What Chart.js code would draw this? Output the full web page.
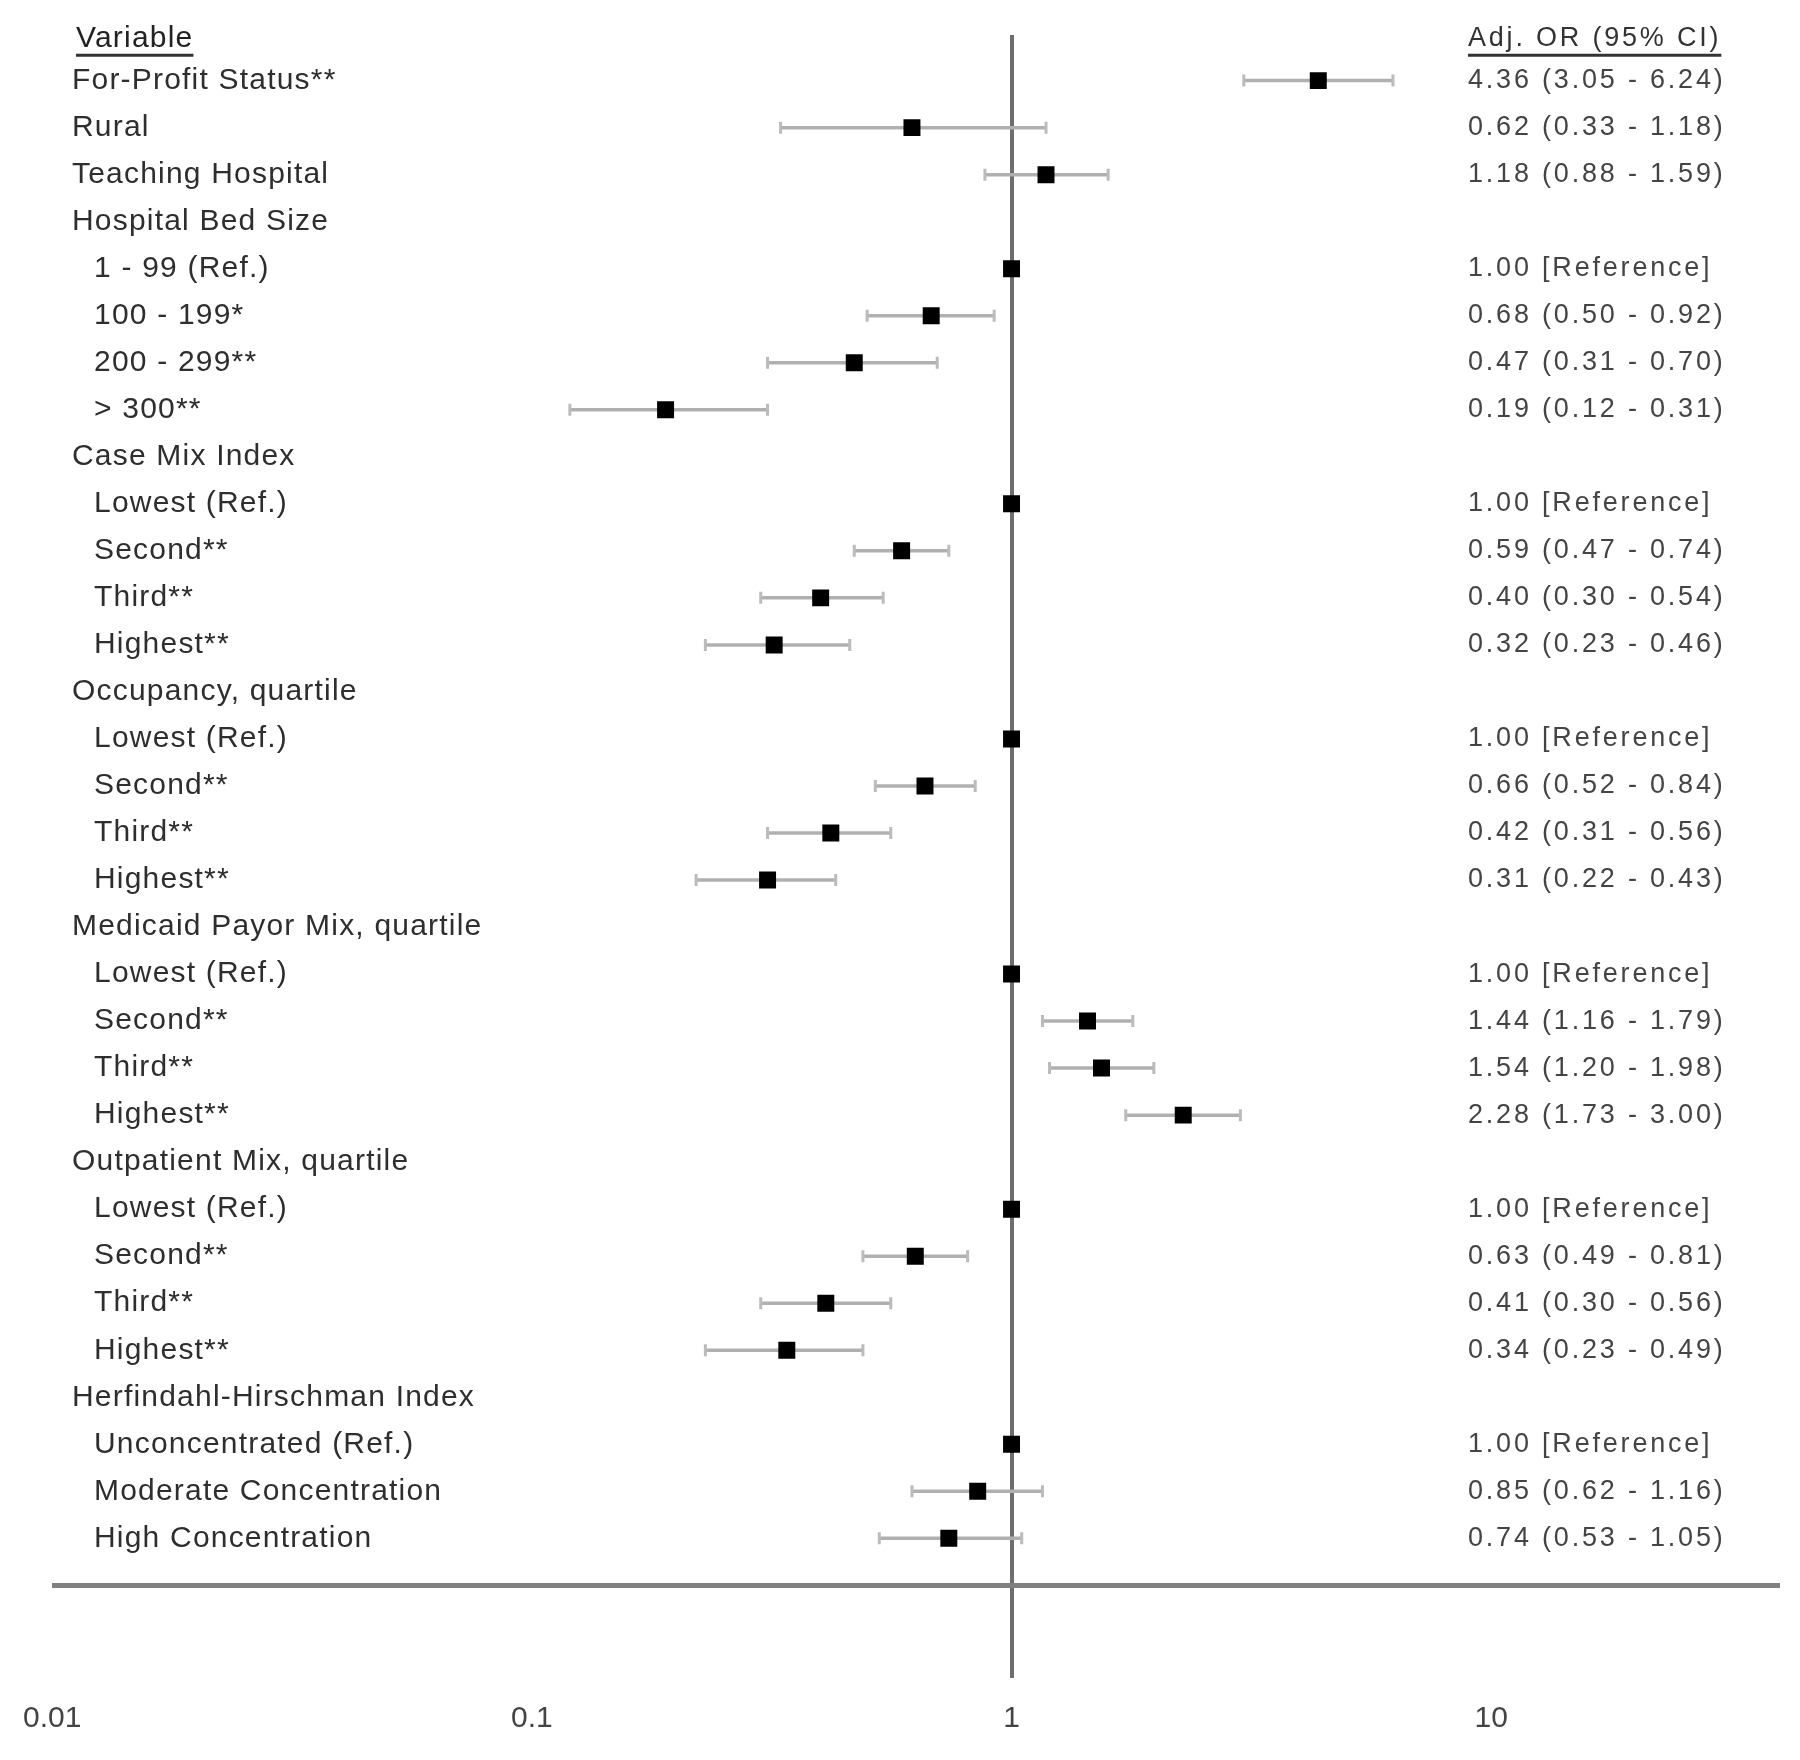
<!DOCTYPE html>
<html>
<head>
<meta charset="utf-8">
<title>Adjusted odds ratios</title>
<script src="https://cdn.jsdelivr.net/npm/chart.js@4.4.1/dist/chart.umd.min.js"></script>
<style>
    html, body { margin: 0; padding: 0; background: #fff; }
    canvas { display: block; filter: blur(0.6px); }
</style>
</head>
<body>
<canvas id="chartForest" width="1800" height="1760"></canvas>
<script>
'use strict'

// rows top to bottom
var rowLabels = ['For-Profit Status**', 'Rural', 'Teaching Hospital',
    'Hospital Bed Size', '1 - 99 (Ref.)', '100 - 199*', '200 - 299**', '> 300**',
    'Case Mix Index', 'Lowest (Ref.)', 'Second**', 'Third**', 'Highest**',
    'Occupancy, quartile', 'Lowest (Ref.)', 'Second**', 'Third**', 'Highest**',
    'Medicaid Payor Mix, quartile', 'Lowest (Ref.)', 'Second**', 'Third**', 'Highest**',
    'Outpatient Mix, quartile', 'Lowest (Ref.)', 'Second**', 'Third**', 'Highest**',
    'Herfindahl-Hirschman Index', 'Unconcentrated (Ref.)', 'Moderate Concentration', 'High Concentration'];
var rowLevel = [0, 0, 0, 0, 1, 1, 1, 1, 0, 1, 1, 1, 1, 0, 1, 1, 1, 1, 0, 1, 1, 1, 1, 0, 1, 1, 1, 1, 0, 1, 1, 1];
var oddsRatio = [4.36, 0.62, 1.18, null, 1.00, 0.68, 0.47, 0.19, null, 1.00, 0.59, 0.40, 0.32,
    null, 1.00, 0.66, 0.42, 0.31, null, 1.00, 1.44, 1.54, 2.28, null, 1.00, 0.63, 0.41, 0.34,
    null, 1.00, 0.85, 0.74];
var ciLow = [3.05, 0.33, 0.88, null, null, 0.50, 0.31, 0.12, null, null, 0.47, 0.30, 0.23,
    null, null, 0.52, 0.31, 0.22, null, null, 1.16, 1.20, 1.73, null, null, 0.49, 0.30, 0.23,
    null, null, 0.62, 0.53];
var ciHigh = [6.24, 1.18, 1.59, null, null, 0.92, 0.70, 0.31, null, null, 0.74, 0.54, 0.46,
    null, null, 0.84, 0.56, 0.43, null, null, 1.79, 1.98, 3.00, null, null, 0.81, 0.56, 0.49,
    null, null, 1.16, 1.05];
var xTicks = [0.01, 0.1, 1, 10];
var nullValue = 1;
var colHeaders = ['Variable', 'Adj. OR (95% CI)'];

var pointData = [];
var datasets = [];
rowLabels.forEach(function (lab, i) {
    if (oddsRatio[i] != null) pointData.push({ x: oddsRatio[i], y: i });
});
datasets.push({
    label: 'OR',
    data: pointData,
    pointStyle: 'rect',
    pointRadius: 12,
    pointBackgroundColor: '#000',
    pointBorderWidth: 0,
    order: 0
});
// one small line per confidence interval, caps drawn as rotated 'line' points
rowLabels.forEach(function (lab, i) {
    if (ciLow[i] == null) return;
    datasets.push({
        label: lab,
        data: [{ x: ciLow[i], y: i }, { x: ciHigh[i], y: i }],
        showLine: true,
        borderColor: '#b0b0b0',
        borderWidth: 3.5,
        pointStyle: 'line',
        rotation: 90,
        pointRadius: 6,
        pointBorderColor: '#bbbbbb',
        pointBorderWidth: 3,
        order: 1
    });
});

function fmt(v) { return v.toFixed(2); }

var rowText = {
    id: 'rowText',
    afterDraw: function (chart) {
        var c = chart.ctx;
        var ys = chart.scales.y;
        c.save();
        c.textBaseline = 'middle';
        c.textAlign = 'left';

        // column headers
        var yHead = ys.getPixelForValue(-0.9);
        c.font = '30px "Liberation Sans", Arial, sans-serif';
        c.letterSpacing = '1.2px';
        c.fillStyle = '#222';
        c.fillText(colHeaders[0], 76, yHead);
        var w0 = c.measureText(colHeaders[0]).width;
        c.font = '27px "Liberation Sans", Arial, sans-serif';
        c.letterSpacing = '2.8px';
        c.fillStyle = '#333';
        c.fillText(colHeaders[1], 1468, yHead);
        var w1 = c.measureText(colHeaders[1]).width;
        c.strokeStyle = '#333';
        c.lineWidth = 3;
        c.beginPath();
        c.moveTo(76, yHead + 17); c.lineTo(76 + w0, yHead + 17);
        c.moveTo(1468, yHead + 17); c.lineTo(1468 + w1, yHead + 17);
        c.stroke();

        rowLabels.forEach(function (lab, i) {
            var y = ys.getPixelForValue(i);
            c.font = '30px "Liberation Sans", Arial, sans-serif';
            c.letterSpacing = '1.2px';
            c.fillStyle = '#2e2e2e';
            c.fillText(lab, rowLevel[i] ? 94 : 72, y);
            if (oddsRatio[i] == null) return;
            var txt = fmt(oddsRatio[i]) + (ciLow[i] == null ? ' [Reference]'
                : ' (' + fmt(ciLow[i]) + ' - ' + fmt(ciHigh[i]) + ')');
            c.font = '27px "Liberation Sans", Arial, sans-serif';
            c.letterSpacing = '2.8px';
            c.fillStyle = '#444';
            c.fillText(txt, 1468, y);
        });
        c.restore();
    }
};

var ctx = document.getElementById('chartForest');
var chart = new Chart(ctx, {
    type: 'scatter',
    data: { datasets: datasets },
    plugins: [rowText],
    options: {
        responsive: false,
        animation: false,
        layout: { padding: { left: 47, right: 20, top: 35, bottom: 24 } },
        plugins: {
            legend: { display: false },
            tooltip: { enabled: false }
        },
        scales: {
            x: {
                type: 'logarithmic',
                min: 0.01,
                max: 40,
                afterBuildTicks: function (scale) {
                    scale.ticks = xTicks.map(function (v) { return { value: v }; });
                },
                afterFit: function (scale) { scale.height = 58; },
                ticks: {
                    autoSkip: false,
                    maxRotation: 0,
                    padding: 23,
                    color: '#444',
                    font: { family: '"Liberation Sans", Arial, sans-serif', size: 30 },
                    callback: function (v) { return String(v); }
                },
                grid: {
                    drawTicks: false,
                    lineWidth: 4,
                    color: function (c) { return c.tick && c.tick.value === nullValue ? '#6e6e6e' : 'rgba(0,0,0,0)'; }
                },
                border: { display: false }
            },
            y: {
                type: 'linear',
                reverse: true,
                min: -0.97,
                max: 33.97,
                afterBuildTicks: function (scale) {
                    scale.ticks = [{ value: rowLabels.length }];
                },
                ticks: { display: false },
                grid: { drawTicks: false, lineWidth: 5, color: '#808080' },
                border: { display: false }
            }
        }
    }
});
</script>
</body>
</html>
